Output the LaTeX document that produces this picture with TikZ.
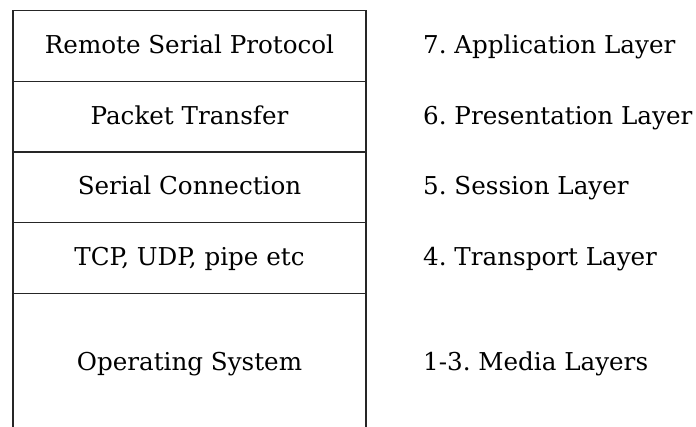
\documentclass[tikz,border=0pt]{standalone}
\usepackage{fontspec}
\setmainfont{DejaVu Serif}
\frenchspacing
\begin{document}
\begin{tikzpicture}[x=1pt,y=-1pt,
  boxline/.style={line width=1.3pt,draw=black!85},
  lefttext/.style={anchor=base,inner sep=0pt,font=\fontsize{24.6}{30}\selectfont},
  righttext/.style={anchor=base west,inner sep=0pt,font=\fontsize{24.6}{30}\selectfont}]
\useasboundingbox (0,0) rectangle (696,427);
% box outline and dividers
\coordinate (tl) at (13,10.7);
\coordinate (tr) at (366,10.7);
\coordinate (bl) at (13,427);
\coordinate (br) at (366,427);
\draw[boxline] (bl) -- (tl) -- (tr) -- (br);
\foreach \y in {81.3,152,222.6,293.2}
  \draw[boxline] (13,\y) -- (366,\y);
% left texts
\node[lefttext] (rsp) at (189.5,53.3) {Remote Serial Protocol};
\node[lefttext] (pt)  at (189.5,124.6) {Packet Transfer};
\node[lefttext] (sc)  at (189.5,195) {Serial Connection};
\node[lefttext] (tcp) at (189.5,265.3) {TCP, UDP, pipe etc};
\node[lefttext] (os)  at (189.5,371) {Operating System};
% right labels
\node[righttext] (l7) at (423,53.3) {7. Application Layer};
\node[righttext] (l6) at (423,124.6) {6. Presentation Layer};
\node[righttext] (l5) at (423,195) {5. Session Layer};
\node[righttext] (l4) at (423,265.3) {4. Transport Layer};
\node[righttext] (l13) at (423,371) {1-3. Media Layers};
\end{tikzpicture}
\end{document}
